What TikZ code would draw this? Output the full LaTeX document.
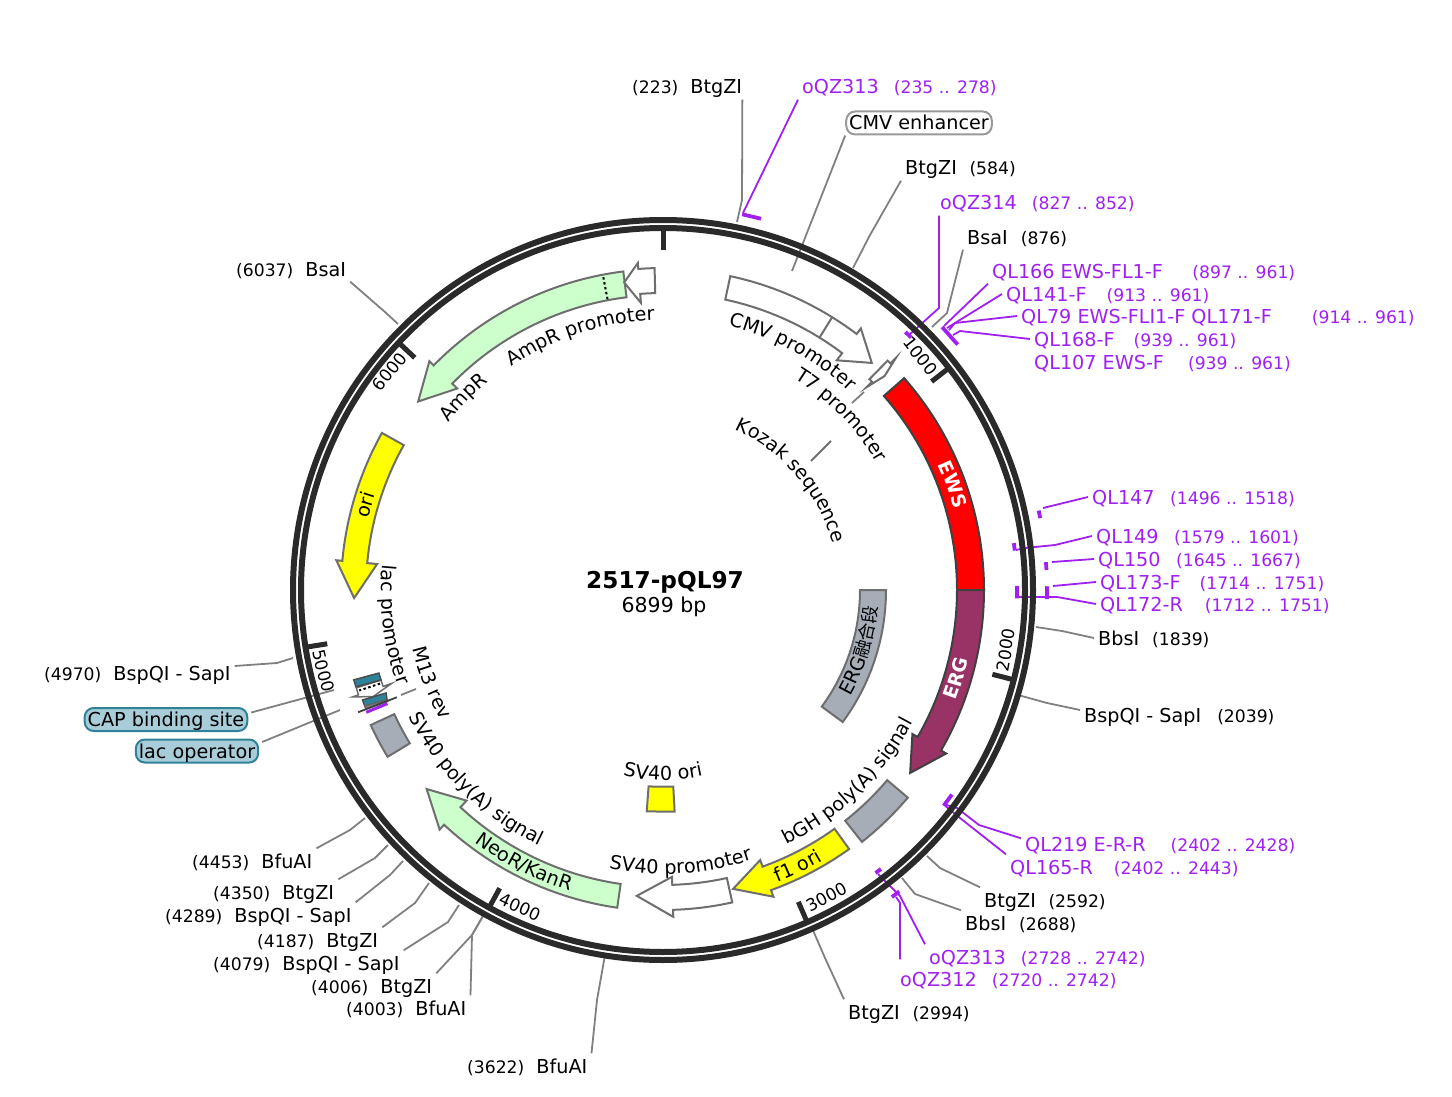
\documentclass[tikz,border=0pt]{standalone}
\usepackage{fontspec}
\setmainfont{DejaVu Sans}
\newfontfamily\cjk{Noto Sans CJK SC}
\usetikzlibrary{decorations.text}
\definecolor{RingBlack}{HTML}{2A2A2A}
\definecolor{PrimerPurple}{HTML}{A020F0}
\definecolor{LeaderGray}{HTML}{808080}
\definecolor{FeatureGray}{HTML}{6E6E6E}
\definecolor{FeatureGreen}{HTML}{CCFFCC}
\definecolor{FeatureSlate}{HTML}{A6ADB7}
\definecolor{FeatureYellow}{HTML}{FFFF00}
\definecolor{ErgPlum}{HTML}{993366}
\definecolor{SiteTeal}{HTML}{2E8299}
\definecolor{SiteBlue}{HTML}{A8CDD8}
\newcommand{\namefont}{\fontsize{19.2}{20}\selectfont}
\newcommand{\posfont}{\fontsize{17.2}{20}\selectfont}
\newcommand{\sitepos}[1]{{\posfont #1}}

\begin{document}
\begin{tikzpicture}[x=1pt, y=-1pt,
        % --- labels round the ring ---
        site/.style    = {anchor=west, xshift=1pt, font=\namefont, inner xsep=4pt, inner ysep=3pt, text height=16.5pt, text depth=2.5pt},
        primer/.style  = {site, text=PrimerPurple},
        flagbox/.style = {rectangle, rounded corners=9pt, font=\namefont, inner xsep=3pt, inner ysep=2pt, text height=16.5pt, text depth=2.5pt},
        % --- connectors ---
        leader/.style  = {draw=LeaderGray, line width=1.8pt},
        pleader/.style = {draw=PrimerPurple, line width=1.8pt},
        pbar/.style    = {draw=PrimerPurple, line width=3.8pt},
        % --- ring and features ---
        ring/.style    = {draw=RingBlack, line width=6pt},
        tickmark/.style= {draw=RingBlack, line width=5pt},
        ticklabel/.style = {font=\fontsize{17}{20}\selectfont, inner sep=0pt},
        feature/.style = {draw=FeatureGray, line width=2pt, line join=miter},
        arctext/.style = {decorate, decoration={text along path, text align=center, text={#1}}},
        curved/.style  = {arctext={|\namefont|#1}},
        boldarc/.style = {arctext={|\fontsize{19}{20}\selectfont\bfseries\color{white}|#1}}
    ]
    \useasboundingbox (0,0) rectangle (1452,1097);

    % --- Cut sites and primers, clockwise from the top ---
    \node[site] (btg223) at (627,87) {\sitepos{(223)}\hspace{12pt}BtgZI};
    \node[primer] (oqz313top) at (797,87) {oQZ313\hspace{15pt}\sitepos{(235 .. 278)}};
    \node[flagbox, draw=LeaderGray!80, line width=2pt, fill=white] (cmvenh) at (919,123) {CMV enhancer};
    \node[site] (btg584) at (900,168) {BtgZI\hspace{12.6pt}\sitepos{(584)}};
    \node[primer] (oqz314) at (935,203) {oQZ314\hspace{15pt}\sitepos{(827 .. 852)}};
    \node[site] (bsa876) at (962,237) {BsaI\hspace{13pt}\sitepos{(876)}};
    \node[primer] (ql166) at (987,271) {QL166 EWS-FL1-F\hspace{29.5pt}\sitepos{(897 .. 961)}};
    \node[primer] (ql141) at (1001,294) {QL141-F\hspace{20pt}\sitepos{(913 .. 961)}};
    \node[primer] (ql79) at (1016,316) {QL79 EWS-FLI1-F QL171-F\hspace{40pt}\sitepos{(914 .. 961)}};
    \node[primer] (ql168) at (1029,339) {QL168-F\hspace{19pt}\sitepos{(939 .. 961)}};
    \node[primer] (ql107) at (1029,362) {QL107 EWS-F\hspace{24pt}\sitepos{(939 .. 961)}};
    \node[primer] (ql147) at (1087,497) {QL147\hspace{15.5pt}\sitepos{(1496 .. 1518)}};
    \node[primer] (ql149) at (1091,536) {QL149\hspace{15.5pt}\sitepos{(1579 .. 1601)}};
    \node[primer] (ql150) at (1093,559) {QL150\hspace{15.5pt}\sitepos{(1645 .. 1667)}};
    \node[primer] (ql173) at (1095,582) {QL173-F\hspace{19pt}\sitepos{(1714 .. 1751)}};
    \node[primer] (ql172) at (1095,604) {QL172-R\hspace{22pt}\sitepos{(1712 .. 1751)}};
    \node[site] (bbs1839) at (1093,638) {BbsI\hspace{13pt}\sitepos{(1839)}};
    \node[site] (bsp2039) at (1079,715) {BspQI - SapI\hspace{16pt}\sitepos{(2039)}};
    \node[primer] (ql219) at (1020,844) {QL219 E-R-R\hspace{25pt}\sitepos{(2402 .. 2428)}};
    \node[primer] (ql165) at (1005,867) {QL165-R\hspace{21pt}\sitepos{(2402 .. 2443)}};
    \node[site] (btg2592) at (979,900) {BtgZI\hspace{12.6pt}\sitepos{(2592)}};
    \node[site] (bbs2688) at (960,923) {BbsI\hspace{13pt}\sitepos{(2688)}};
    \node[primer] (oqz313low) at (924,957) {oQZ313\hspace{15pt}\sitepos{(2728 .. 2742)}};
    \node[primer] (oqz312) at (895,979) {oQZ312\hspace{15pt}\sitepos{(2720 .. 2742)}};
    \node[site] (btg2994) at (843,1012) {BtgZI\hspace{12.6pt}\sitepos{(2994)}};
    \node[site] (bfu3622) at (462,1066) {\sitepos{(3622)}\hspace{12pt}BfuAI};
    \node[site] (bfu4003) at (341,1008) {\sitepos{(4003)}\hspace{12pt}BfuAI};
    \node[site] (btg4006) at (306,986) {\sitepos{(4006)}\hspace{12pt}BtgZI};
    \node[site] (bsp4079) at (208,963) {\sitepos{(4079)}\hspace{12pt}BspQI - SapI};
    \node[site] (btg4187) at (252,940) {\sitepos{(4187)}\hspace{12pt}BtgZI};
    \node[site] (bsp4289) at (160,915) {\sitepos{(4289)}\hspace{12pt}BspQI - SapI};
    \node[site] (btg4350) at (208,892) {\sitepos{(4350)}\hspace{12pt}BtgZI};
    \node[site] (bfu4453) at (187,861) {\sitepos{(4453)}\hspace{12pt}BfuAI};
    \node[site] (bsp4970) at (39,673) {\sitepos{(4970)}\hspace{12pt}BspQI - SapI};
    \node[flagbox, draw=SiteTeal, line width=2pt, fill=SiteBlue] (capsite) at (166,719.5) {CAP binding site};
    \node[flagbox, draw=SiteTeal, line width=2pt, fill=SiteBlue] (lacop) at (197,751) {lac operator};
    \node[site] (bsa6037) at (231,269) {\sitepos{(6037)}\hspace{12pt}BsaI};

    % Plasmid name
    \node[font=\fontsize{23.2}{24}\selectfont\bfseries] (plasmid) at (665,582) {2517-pQL97};
    \node[font=\fontsize{20.5}{22}\selectfont] (plasmidsize) at (664,607) {6899 bp};

    % Free ends of the connectors
    \coordinate (btg223end) at (737,222);
    \coordinate (oqz313topend) at (743,213);
    \coordinate (cmvenhend) at (792,271);
    \coordinate (btg584end) at (853,268);
    \coordinate (oqz314end) at (909,335);
    \coordinate (bsa876end) at (932,327);
    \coordinate (ql166end) at (944,326);
    \coordinate (ql141end) at (947,328);
    \coordinate (ql79end) at (949,330);
    \coordinate (ql168end) at (953,335);
    \coordinate (ql147end) at (1043,508);
    \coordinate (ql149end) at (1016,550);
    \coordinate (ql150end) at (1052,562);
    \coordinate (ql173end) at (1053,586);
    \coordinate (ql172end) at (1016,597);
    \coordinate (bbs1839end) at (1036,627);
    \coordinate (bsp2039end) at (1018,695);
    \coordinate (ql219end) at (943,804);
    \coordinate (btg2592end) at (927,856);
    \coordinate (bbs2688end) at (902,878);
    \coordinate (oqz313lowend) at (878,874);
    \coordinate (oqz312end) at (896,897);
    \coordinate (btg2994end) at (812,928);
    \coordinate (bfu3622end) at (605,955);
    \coordinate (bfu4003end) at (483,916);
    \coordinate (bsp4079end) at (459,905);
    \coordinate (btg4187end) at (429,883);
    \coordinate (bsp4289end) at (403,861);
    \coordinate (btg4350end) at (388,845);
    \coordinate (bfu4453end) at (365,818);
    \coordinate (bsp4970end) at (293,658);
    \coordinate (capsiteend) at (334,690);
    \coordinate (lacopend) at (340,710);
    \coordinate (bsa6037end) at (398,324);
    \coordinate (t7outer) at (864,392);
    \coordinate (t7inner) at (852,403);
    \coordinate (kozakouter) at (831,441);
    \coordinate (kozakinner) at (811,461);
    \coordinate (m13outer) at (401,695);
    \coordinate (m13inner) at (416,689);

    % Connectors
    \draw[leader] ([xshift=-4pt]btg223.south east) -- (742,200) -- (btg223end);
    \draw[pleader] (oqz313top.south west) -- (oqz313topend);
    \draw[leader] (cmvenh.south west) -- (cmvenhend);
    \draw[leader] (btg584.south west) -- (870,235) -- (btg584end);
    \draw[pleader] ([xshift=3pt]oqz314.south west) -- (939,308) -- (oqz314end);
    \draw[leader] (bsa876.south west) -- (947,313) -- (bsa876end);
    \draw[pleader] (ql166.south west) -- (ql166end);
    \draw[pleader] (ql141.west) -- (955,323) -- (ql141end);
    \draw[pleader] (ql79.west) -- (955,323) -- (ql79end);
    \draw[pleader] (ql168.west) -- (960,331) -- (ql168end);
    \draw[pleader] (ql147.west) -- (ql147end);
    \draw[pleader] (ql149.west) -- (1055,545) -- (1025,548) -- (ql149end);
    \draw[pleader] (ql150.west) -- (ql150end);
    \draw[pleader] (ql173.west) -- (ql173end);
    \draw[pleader] (ql172.west) -- (1057,597) -- (ql172end);
    \draw[leader] (bbs1839.west) -- (1062,631) -- (bbs1839end);
    \draw[leader] ([yshift=5pt]bsp2039.west) -- (1047,703) -- (bsp2039end);
    \draw[pleader] ([yshift=-7pt]ql219.north west) -- (979,825) -- (957,808) -- (ql219end);
    \draw[pleader] (ql165.north west) -- (960,818) -- (ql219end);
    \draw[leader] (btg2592.north west) -- (940,868) -- (btg2592end);
    \draw[leader] (bbs2688.north west) -- (915,894) -- (bbs2688end);
    \draw[pleader] (oqz313low.north west) -- (900,896) -- (oqz313lowend);
    \draw[pleader] ([xshift=4pt,yshift=7pt]oqz312.north west) -- (900,903) -- (oqz312end);
    \draw[leader] (btg2994.north west) -- (825,958) -- (btg2994end);
    \draw[leader] (bfu3622.north east) -- (597,1000) -- (bfu3622end);
    \draw[leader] (bfu4003.north east) -- (472,935) -- (bfu4003end);
    \draw[leader] (btg4006.north east) -- (472,935) -- (bfu4003end);
    \draw[leader] (bsp4079.north east) -- (448,922) -- (bsp4079end);
    \draw[leader] (btg4187.north east) -- (415,903) -- (btg4187end);
    \draw[leader] (bsp4289.north east) -- (390,875) -- (bsp4289end);
    \draw[leader] (btg4350.north east) -- (375,858) -- (btg4350end);
    \draw[leader] (bfu4453.north east) -- (350,830) -- (bfu4453end);
    \draw[leader] ([yshift=7pt]bsp4970.east) -- (277,663) -- (bsp4970end);
    \draw[leader] ([yshift=7pt,xshift=3pt]capsite.east) -- (capsiteend);
    \draw[leader] ([yshift=9pt,xshift=3pt]lacop.east) -- (lacopend);
    \draw[leader] (bsa6037.south east) -- (385,312) -- (bsa6037end);
    \draw[leader] (t7outer) -- (t7inner);
    \draw[draw=FeatureGray, line width=1.8pt] (kozakouter) -- (kozakinner);
    \draw[leader] (m13outer) -- (m13inner);

    % Everything on the circle, angles counted as usual from the centre
    \begin{scope}[shift={(663,590)}, y=1pt]
        \draw[ring] (0,0) circle[radius=370];
        \draw[ring] (0,0) circle[radius=362];

        % Ticks and numbers
        \draw[tickmark] (90:340) -- (90:360);
        \draw[tickmark] (37.82:340) -- (37.82:360);
        \draw[tickmark] (-14.36:340) -- (-14.36:360);
        \draw[tickmark] (-66.54:340) -- (-66.54:360);
        \draw[tickmark] (-118.7:340) -- (-118.7:360);
        \draw[tickmark] (189.1:340) -- (189.1:360);
        \draw[tickmark] (136.9:340) -- (136.9:360);
        \node[ticklabel, rotate=-52] (tick1000) at (42.3:348) {1000};
        \node[ticklabel, rotate=80] (tick2000) at (-9.9:348) {2000};
        \node[ticklabel, rotate=28] (tick3000) at (-62:348) {3000};
        \node[ticklabel, rotate=-24.3] (tick4000) at (245.7:348) {4000};
        \node[ticklabel, rotate=-76.6] (tick5000) at (193.4:349) {5000};
        \node[ticklabel, rotate=51.4] (tick6000) at (141.4:350) {6000};

        % Primer bars
        \draw[pbar] (78.1:384) -- (75.2:384);
        \draw[pbar] (46.8:354) -- (45.5:354);
        \draw[pbar] (43.3:383.5) -- (39.8:383.5);
        \draw[pbar] (11.94:384) -- (10.79:384);
        \draw[pbar] (7.6:354) -- (6.4:354);
        \draw[pbar] (4.16:384) -- (3:384);
        \draw[pbar] (0.56:384) -- (-1.37:384);
        \draw[pbar] (0.66:354) -- (-1.37:354);
        \draw[pbar] (-35.3:354) -- (-37.5:354);
        \draw[pbar] (-52:354) -- (-53.1:354);
        \draw[pbar] (-51.9:383) -- (-53.3:383);

        % Outer row of features
        \draw[feature, draw=black!75, fill=red] (41.3:321) arc[start angle=41.3, end angle=0, radius=321] -- (0:294) arc[start angle=0, end angle=41.3, radius=294] -- cycle;
        \draw[feature, draw=black!75, fill=ErgPlum] (0:321) arc[start angle=0, end angle=-30, radius=321] -- (-30:327) -- (-36.5:307.5) -- (-30:288) -- (-30:294) arc[start angle=-30, end angle=0, radius=294] -- cycle;
        \draw[feature, fill=FeatureSlate] (-40.3:321) arc[start angle=-40.3, end angle=-51.7, radius=321] -- (-51.7:294) arc[start angle=-51.7, end angle=-40.3, radius=294] -- cycle;
        \draw[feature, fill=FeatureYellow] (-54.3:319) arc[start angle=-54.3, end angle=-70.2, radius=319] -- (-70.2:326) -- (-76.8:307) -- (-70.2:287) -- (-70.2:294) arc[start angle=-70.2, end angle=-54.3, radius=294] -- cycle;
        \draw[feature, fill=white] (-77.5:320) arc[start angle=-77.5, end angle=-88.2, radius=320] -- (-88.2:327) -- (-94.9:307) -- (-88.2:287) -- (-88.2:295) arc[start angle=-88.2, end angle=-77.5, radius=295] -- cycle;
        \draw[feature, fill=FeatureGreen] (-98.2:321) arc[start angle=-98.2, end angle=-133, radius=321] -- (-133:327.5) -- (-139.9:309) -- (-133:288) -- (-133:297) arc[start angle=-133, end angle=-98.2, radius=297] -- cycle;
        \draw[feature, fill=FeatureSlate] (204.8:322) arc[start angle=204.8, end angle=211.2, radius=322] -- (211.2:296) arc[start angle=211.2, end angle=204.8, radius=296] -- cycle;
        \draw[feature, fill=FeatureYellow] (150.8:322) arc[start angle=150.8, end angle=174.8, radius=322] -- (174.8:328) -- (181.5:309) -- (174.8:287) -- (174.8:297) arc[start angle=174.8, end angle=150.8, radius=297] -- cycle;
        \draw[feature, fill=FeatureGreen] (97.1:321) arc[start angle=97.1, end angle=135.6, radius=321] -- (135.6:327) -- (142.4:309) -- (135.6:288) -- (135.6:295) arc[start angle=135.6, end angle=97.1, radius=295] -- cycle;
        \draw[line width=2pt, dash pattern=on 2.5pt off 2.5pt] (100.8:296) -- (100.8:320);
        \draw[feature, fill=white] (91.5:322) arc[start angle=91.5, end angle=94.4, radius=322] -- (94.4:328) -- (97.2:310) -- (94.4:288) -- (94.4:297) arc[start angle=94.4, end angle=91.5, radius=297] -- cycle;
        \draw[feature, fill=white] (77.9:321) arc[start angle=77.9, end angle=52.9, radius=321] -- (52.9:328) -- (47.4:308.5) -- (52.9:288) -- (52.9:297) arc[start angle=52.9, end angle=77.9, radius=297] -- cycle;
        \draw[feature] (58.2:321) -- (58.2:296);
        \draw[feature, fill=white] (45.6:321) -- (44.9:321) -- (44.9:329) -- (44:308) -- (44.9:287) -- (44.9:295) -- (45.6:295) -- cycle;

        % Inner row of features
        \draw[feature, fill=FeatureSlate] (0:223) arc[start angle=0, end angle=-36.3, radius=223] -- (-36.3:197) arc[start angle=-36.3, end angle=0, radius=197] -- cycle;
        \draw[feature, fill=FeatureYellow] (-87:197) -- (-87:222) -- (-94.2:222) -- (-94.2:197) -- cycle;

        % Stack at the lac promoter
        \draw[feature, line width=1.5pt, fill=white] (197.7:322) -- (199:322) -- (199:328) -- (200.2:309) -- (199:287) -- (199:296) -- (197.7:296) -- cycle;
        \draw[line width=2pt, dash pattern=on 2.5pt off 2.5pt] (198.3:298) -- (198.3:320);
        \draw[draw=black!70, line width=1.5pt, fill=SiteTeal] (196.2:322) -- (196.3:296) -- (197.7:296) -- (197.5:322) -- cycle;
        \draw[draw=black!70, line width=1.5pt, fill=SiteTeal] (200.1:320) -- (200.4:295.5) -- (201.7:297) -- (201.3:320) -- cycle;
        \draw[draw=black!60, line width=1.5pt, fill=black!45] (201.3:320) -- (201.7:297) -- (202:297) -- (201.8:320) -- cycle;
        \draw[draw=PrimerPurple, line width=3pt] (202.4:298) -- (202.4:321);
        \draw[draw=black!75, line width=1.8pt] (201.95:287) -- (201.85:328.5);

        % Text that follows the ring
        \path[curved={AmpR promoter}] (130:270) arc[start angle=130, end angle=86, radius=270];
        \path[curved={AmpR}] (146:272) arc[start angle=146, end angle=126, radius=272];
        \path[curved={CMV promoter}] (83.5:272) arc[start angle=83.5, end angle=39.5, radius=272];
        \path[curved={T7 promoter}] (64.5:249) arc[start angle=64.5, end angle=24.5, radius=249];
        \path[curved={Kozak sequence}] (72.5:176) arc[start angle=72.5, end angle=8.5, radius=176];
        \path[curved={ori}] (172:303) arc[start angle=172, end angle=156, radius=303];
        \path[curved={lac promoter}] (171:282) arc[start angle=171, end angle=203.6, radius=282];
        \path[curved={M13 rev}] (187.8:257) arc[start angle=187.8, end angle=215.8, radius=257];
        \path[curved={SV40 poly(A) signal}] (199:284) arc[start angle=199, end angle=251.6, radius=284];
        \path[curved={NeoR/KanR}] (227:315) arc[start angle=227, end angle=259, radius=315];
        \path[curved={SV40 promoter}] (253.7:284) arc[start angle=253.7, end angle=293.7, radius=284];
        \path[curved={bGH poly(A) signal}] (-72:283) arc[start angle=-72, end angle=-20, radius=283];
        \path[curved={SV40 ori}] (-112:190) arc[start angle=-112, end angle=-68, radius=190];
        \path[curved={f1 ori}] (-75:314) arc[start angle=-75, end angle=-53, radius=314];
        \path[arctext={|\namefont|ERG|\fontsize{18}{20}\selectfont\cjk|融合段}] (-37:215) arc[start angle=-37, end angle=3, radius=215];
        \path[boldarc={EWS}] (30:302) arc[start angle=30, end angle=10, radius=302];
        \path[boldarc={ERG}] (-26.7:313) arc[start angle=-26.7, end angle=-6.7, radius=313];
    \end{scope}
\end{tikzpicture}
\end{document}
